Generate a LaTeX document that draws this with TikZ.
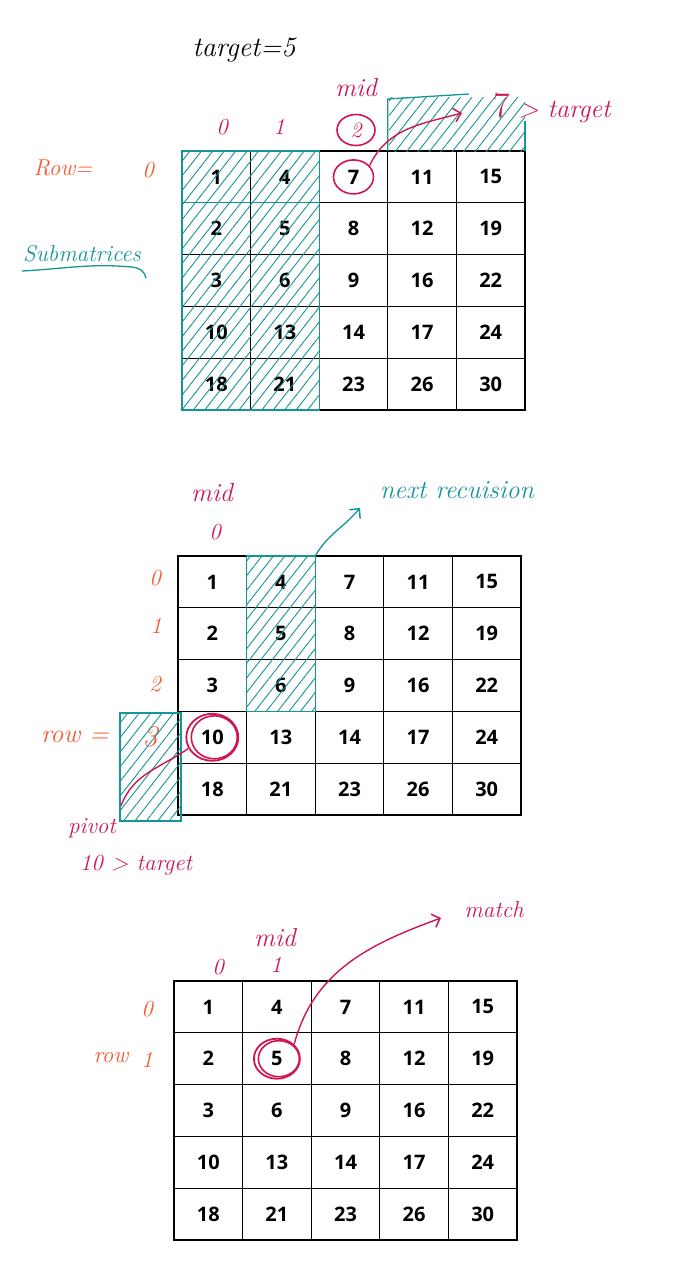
\documentclass[tikz,border=0pt]{standalone}
\usepackage{fontspec}
\newfontfamily\numfont{Open Sans}
\usetikzlibrary{arrows.meta,patterns.meta,shapes.geometric}
\definecolor{penred}{RGB}{208,22,82}
\definecolor{penorange}{RGB}{250,85,45}
\definecolor{penteal}{RGB}{22,148,150}
\tikzset{
  cell/.style={draw,line width=1.3pt,minimum width=68.6pt,minimum height=51.8pt,inner sep=0pt,outer sep=0pt,font=\numfont\bfseries\fontsize{20}{22}\selectfont},
  hatch/.style={pattern={Lines[angle=52,distance=9pt,line width=0.9pt]},pattern color=penteal},
  ring/.style={ellipse,draw=penred,line width=1.6pt,inner sep=0pt},
  note/.style={font=\itshape\fontsize{23}{25}\selectfont,inner sep=0pt},
  bignote/.style={font=\itshape\fontsize{26}{28}\selectfont,inner sep=0pt},
  barb/.style={-{Straight Barb[length=7pt,width=14pt,line width=1.5pt]}}
}
\begin{document}
\begin{tikzpicture}[x=1pt,y=-1pt]
\useasboundingbox (0,0) rectangle (700,1286);
\foreach \g/\gx/\gy in {a/182/151,b/178/556,c/174/981}
  \foreach \vals [count=\r from 0] in {{1,4,7,11,15},{2,5,8,12,19},{3,6,9,16,22},{10,13,14,17,24},{18,21,23,26,30}}
    \foreach \v [count=\c from 0] in \vals
      \node[cell] (\g\r\c) at (\gx+34.3+68.6*\c,\gy+25.9+51.8*\r) {\v};

\node[bignote,font=\itshape\fontsize{28}{30}\selectfont] (target) at (244,50) {target=5};
\node[bignote,text=penred] (midA) at (356,88) {mid};
\node[note,text=penred] (colA0) at (222,127) {0};
\node[note,text=penred] (colA1) at (279,127) {1};
\node[ring,minimum width=38pt,minimum height=31pt,text=penred,font=\itshape\fontsize{22}{24}\selectfont] (colA2) at (356,130) {2};
\node[note,text=penorange] (rowA) at (63,168) {Row=};
\node[note,text=penorange] (rowA0) at (148,170) {0};
\node[note,text=penteal] (subm) at (82,254) {Submatrices};
\draw[penteal,line width=1.3pt] (22,271) to[out=3,in=175] (132,267) to[out=-5,in=100] (146,278);
\fill[hatch] (a00.north west) rectangle (a41.south east);
\draw[penteal,line width=1.3pt] (a00.north west) rectangle (a41.south east);
\draw[penteal,line width=1.3pt] (a00.north west) rectangle (a01.south east);
\fill[hatch] (389,97) rectangle (a04.north east);
\draw[penteal,line width=1.3pt] (a03.north west) -- ++(0,-52) -- ++(81,-5);
\draw[penteal,line width=1.3pt] (a04.north east) -- ++(0,-30);
\node[ring,minimum width=40pt,minimum height=34pt] (ring7) at (a02) {};
\coordinate (tipA) at (462,113);
\draw[penred,line width=1.4pt,barb] (ring7.35) to[out=65,in=195] (tipA);
\node[bignote,text=penred,anchor=west] (gtA) at (493,108) {\upshape\fontsize{36}{36}\selectfont 7\itshape\fontsize{26}{28}\selectfont{} > target};

\node[bignote,text=penred] (midB) at (212,493) {mid};
\node[note,text=penred] (colB0) at (215,532) {0};
\node[bignote,text=penteal] (nextrec) at (457,490) {next recuision};
\node[note,text=penorange] (rowB0) at (155,578) {0};
\node[note,text=penorange] (rowB1) at (156,626) {1};
\node[note,text=penorange] (rowB2) at (155,684) {2};
\node[bignote,text=penorange] (rowB) at (75,737) {row =};
\node[note,text=penorange,font=\itshape\fontsize{30}{32}\selectfont] (rowB3) at (150,737) {3};
\fill[hatch] (b01.north west) rectangle (b21.south east);
\draw[penteal,line width=1.3pt] (b01.north west) rectangle (b21.south east);
\fill[hatch] (120,713) rectangle (181,821);
\draw[penteal,line width=1.3pt] (120,713) rectangle (181,821);
\coordinate (tipB) at (360,508);
\draw[penteal,line width=1.3pt,barb] (b01.north east) to[out=60,in=230] (tipB);
\node[ring,minimum width=52pt,minimum height=47pt,line width=1.8pt] (ring10) at (b30) {};
\node[ring,minimum width=46pt,minimum height=43pt] (ring10b) at ([xshift=2pt]b30) {};
\coordinate (pivotend) at (121,806);
\draw[penred,line width=1.4pt] (ring10.205) to[out=215,in=70] (pivotend);
\node[note,text=penred] (pivot) at (92,828) {pivot};
\node[note,text=penred] (gtB) at (136,865) {10 > target};

\node[note,text=penred] (matchtxt) at (494,910) {match};
\node[bignote,text=penred] (midC) at (275,938) {mid};
\node[note,text=penred] (colC0) at (218,967) {0};
\node[note,text=penred] (colC1) at (276,965) {1};
\node[note,text=penorange] (rowC0) at (147,1009) {0};
\node[note,text=penorange] (rowC) at (111,1058) {row};
\node[note,text=penorange] (rowC1) at (147,1060) {1};
\node[ring,minimum width=46pt,minimum height=40pt,line width=1.8pt] (ring5) at (c11) {};
\node[ring,minimum width=41pt,minimum height=36pt] (ring5b) at ([xshift=2pt]c11) {};
\coordinate (tipC) at (441,918);
\draw[penred,line width=1.4pt,barb] (ring5.40) to[out=75,in=200] (tipC);
\end{tikzpicture}
\end{document}
